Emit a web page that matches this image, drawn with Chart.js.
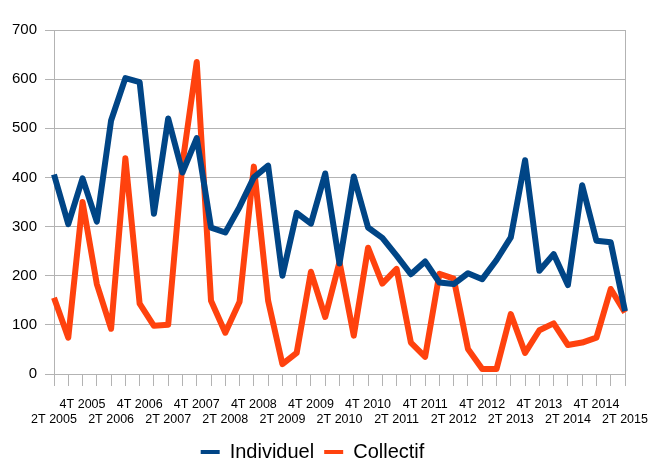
<!DOCTYPE html>
<html><head><meta charset="utf-8">
<script src="https://cdn.jsdelivr.net/npm/chart.js@4/dist/chart.umd.min.js"></script>
<style>html,body{margin:0;padding:0;background:#fff}canvas{display:block}</style>
</head><body>
<canvas id="c" width="661" height="459" style="width:661px;height:459px"></canvas>
<script>
const categories = ["2T 2005","3T 2005","4T 2005","1T 2006","2T 2006","3T 2006","4T 2006","1T 2007","2T 2007","3T 2007","4T 2007","1T 2008","2T 2008","3T 2008","4T 2008","1T 2009","2T 2009","3T 2009","4T 2009","1T 2010","2T 2010","3T 2010","4T 2010","1T 2011","2T 2011","3T 2011","4T 2011","1T 2012","2T 2012","3T 2012","4T 2012","1T 2013","2T 2013","3T 2013","4T 2013","1T 2014","2T 2014","3T 2014","4T 2014","1T 2015","2T 2015"];
const individuel = [406,305,398,310,516,602,594,326,520,410,480,298,288,340,400,424,200,328,306,408,225,402,298,277,241,203,229,186,183,205,193,232,278,435,210,244,181,384,271,268,128];
const collectif = [155,74,350,183,92,439,143,98,100,428,635,149,84,147,422,149,20,43,208,116,228,78,257,184,214,64,35,204,194,51,10,10,122,43,89,103,59,64,74,173,125];
const yTicks = [0,100,200,300,400,500,600,700];

const GRID = '#b3b3b3';
new Chart(document.getElementById('c'), {
  type: 'line',
  data: {
    labels: categories,
    datasets: [
      {label: 'Individuel', data: individuel, borderColor: '#004586', backgroundColor: '#004586', borderWidth: 6, pointRadius: 0, tension: 0, borderJoinStyle: 'round', fill: false},
      {label: 'Collectif', data: collectif, borderColor: '#ff420e', backgroundColor: '#ff420e', borderWidth: 6, pointRadius: 0, tension: 0, borderJoinStyle: 'round', fill: false}
    ]
  },
  options: {
    responsive: false,
    animation: false,
    layout: {padding: {top: 30, right: 36, left: 0, bottom: -13}},
    plugins: {
      tooltip: {enabled: false},
      legend: {
        position: 'bottom',
        labels: {
          color: '#000',
          font: {family: 'Liberation Sans', size: 20},
          boxWidth: 19, boxHeight: 4, padding: 10,
          generateLabels: (chart) => Chart.defaults.plugins.legend.labels.generateLabels(chart).map(l => Object.assign(l, {lineWidth: 0, strokeStyle: 'rgba(0,0,0,0)'}))
        }
      }
    },
    scales: {
      x: {
        offset: false,
        border: {display: true, color: GRID, width: 1},
        grid: {
          color: (ctx) => ctx.index === categories.length - 1 ? GRID : 'rgba(0,0,0,0)',
          tickColor: GRID, tickLength: 12, drawOnChartArea: true
        },
        ticks: {
          autoSkip: false, maxRotation: 0, minRotation: 0, padding: 11,
          color: '#000',
          font: {family: 'Liberation Sans', size: 12.5, lineHeight: 1.2},
          callback: function(v, i) {
            const l = categories[i];
            if (l.startsWith('4T')) return [l];
            if (l.startsWith('2T')) return ['', l];
            return '';
          }
        },
        afterFit: (s) => { s.height = 58; }
      },
      y: {
        min: 0, max: 700,
        afterBuildTicks: (s) => { s.ticks = yTicks.map(v => ({value: v})); },
        border: {display: true, color: GRID, width: 1},
        grid: {color: GRID, tickColor: GRID, tickLength: 9},
        ticks: {color: '#000', padding: 8, font: {family: 'Liberation Sans', size: 15}},
        afterFit: (s) => { s.width = 54; }
      }
    }
  }
});
</script>
</body></html>
